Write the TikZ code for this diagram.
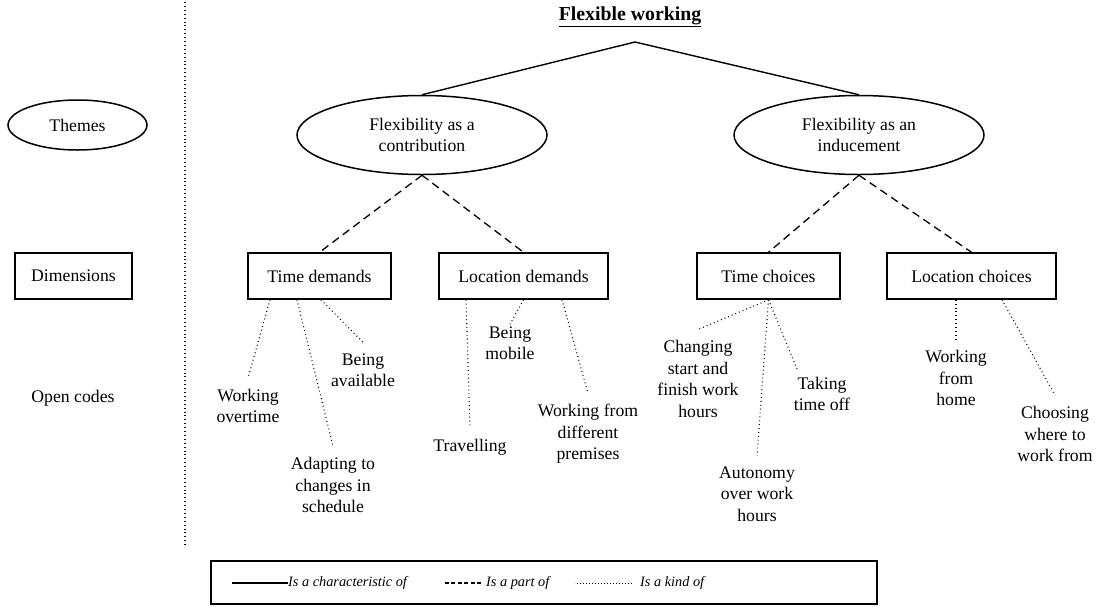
\documentclass[tikz,border=0pt]{standalone}
\usepackage{fontspec}
\setmainfont{Liberation Serif}
\usetikzlibrary{shapes}

\begin{document}
\begin{tikzpicture}[x=1pt,y=-1pt,
  font=\fontsize{17.7}{21.5}\selectfont,
  theme/.style={draw,ellipse,line width=1.5pt,inner sep=0pt,align=center},
  dimbox/.style={draw,rectangle,line width=1.5pt,inner sep=0pt,minimum height=46pt},
  code/.style={align=center,inner sep=0pt,outer sep=11pt},
  charof/.style={line width=1.4pt},
  partof/.style={line width=1.3pt,dash pattern=on 8pt off 5pt},
  kindof/.style={line width=1.1pt,dash pattern=on 0.9pt off 3pt},
  legtext/.style={font=\fontsize{14.3}{17}\selectfont\itshape,anchor=west,inner sep=0pt}]
\useasboundingbox (0,0) rectangle (1098,606);

\coordinate (sepTop) at (185,2);
\coordinate (sepBot) at (185,545);
\draw[kindof] (sepTop) -- (sepBot);

\node[theme,minimum width=139pt,minimum height=50pt] (themes) at (77.5,125) {Themes};
\node[dimbox,minimum width=117pt] (dims) at (73.5,276) {Dimensions};
\node[inner sep=0pt] (open) at (73,398) {Open codes};

\node[font=\fontsize{19.8}{24}\selectfont\bfseries] (flex) at (630,17) {\underline{Flexible working}};
\coordinate (top) at (635,42);

\node[theme,minimum width=250pt,minimum height=79pt] (contrib) at (422,135) {Flexibility as a\\contribution};
\node[theme,minimum width=250pt,minimum height=79pt] (induce) at (859,135) {Flexibility as an\\inducement};
\draw[charof] (contrib.north) -- (top) -- (induce.north);

\node[dimbox,minimum width=143pt] (td) at (319.5,276) {Time demands};
\node[dimbox,minimum width=169pt] (ld) at (523.5,276) {Location demands};
\node[dimbox,minimum width=143pt] (tc) at (768.5,276) {Time choices};
\node[dimbox,minimum width=169pt] (lc) at (971.5,276) {Location choices};
\draw[partof] (contrib.south) -- (td.north);
\draw[partof] (contrib.south) -- (ld.north);
\draw[partof] (induce.south) -- (tc.north);
\draw[partof] (induce.south) -- (lc.north);

\node[code] (over) at (248,406) {Working\\overtime};
\node[code] (adapt) at (333,485) {Adapting to\\changes in\\schedule};
\node[code] (avail) at (363,370) {Being\\available};
\node[code] (travel) at (470,447) {Travelling};
\node[code,outer sep=2pt] (mobile) at (510,343) {Being\\mobile};
\node[code] (premises) at (588,434) {Working from\\different\\premises};
\node[code] (startfin) at (698,379) {Changing\\start and\\finish work\\hours};
\node[code] (autonomy) at (757,494) {Autonomy\\over work\\hours};
\node[code,outer sep=8pt] (timeoff) at (822,394) {Taking\\time off};
\node[code] (home) at (956,378) {Working\\from\\home};
\node[code] (where) at (1055,434) {Choosing\\where to\\work from};

\draw[kindof] ([xshift=-49.5pt]td.south) -- (over.north);
\draw[kindof] ([xshift=-22.5pt]td.south) -- (adapt.north);
\draw[kindof] ([xshift=1.5pt]td.south) -- (avail.north);
\draw[kindof] ([xshift=-57.5pt]ld.south) -- (travel.north);
\draw[kindof] (ld.south) -- (mobile.north);
\draw[kindof] ([xshift=38.5pt]ld.south) -- (premises.north);
\draw[kindof] (tc.south) -- (startfin.north);
\draw[kindof] (tc.south) -- (autonomy.north);
\draw[kindof] (tc.south) -- ([xshift=-25pt]timeoff.north);
\draw[kindof] ([xshift=-15.5pt]lc.south) -- (home.north);
\draw[kindof] ([xshift=30.5pt]lc.south) -- (where.north);

\node[draw,line width=1.3pt,minimum width=666pt,minimum height=43pt,inner sep=0pt] (legend) at (544,582.5) {};
\node[legtext] (lchar) at (288,583) {Is a characteristic of};
\node[legtext] (lpart) at (486,583) {Is a part of};
\node[legtext] (lkind) at (640,583) {Is a kind of};
\draw[charof] (lchar.west) -- ++(-56,0);
\draw[partof,dash pattern=on 4pt off 2.5pt] ([xshift=-5pt]lpart.west) -- ++(-38,0);
\draw[kindof,line width=0.8pt,dash pattern=on 0.8pt off 2.2pt] ([xshift=-8pt]lkind.west) -- ++(-57,0);
\end{tikzpicture}
\end{document}
